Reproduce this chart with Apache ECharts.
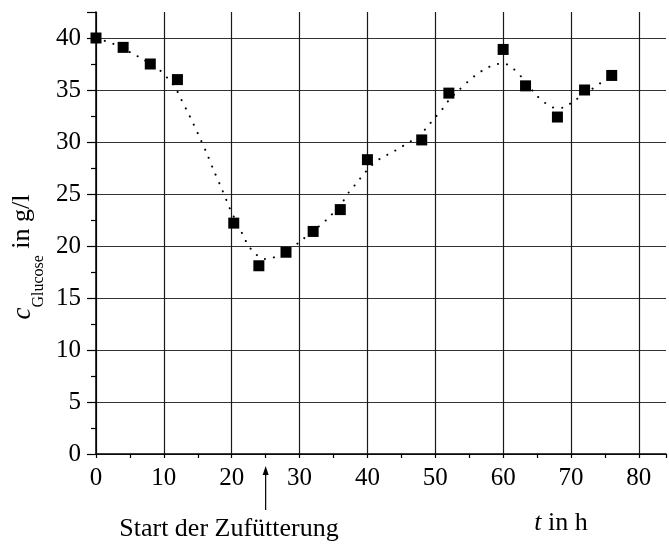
<!DOCTYPE html>
<html>
<head>
<meta charset="utf-8">
<script src="https://cdn.jsdelivr.net/npm/echarts@6/dist/echarts.min.js"></script>
<style>
  html, body { margin: 0; padding: 0; background: #fff; }
  #main { width: 669px; height: 545px; }
</style>
</head>
<body>
<div id="main"></div>
<script>
// Messpunkte
var timeH = [0, 4, 8, 12, 20.3, 24, 28, 32, 36, 40, 48, 52, 60, 63.3, 68, 72, 76];
var glucose = [40.0, 39.1, 37.5, 36.0, 22.2, 18.1, 19.4, 21.4, 23.5, 28.3, 30.2, 34.7, 38.9, 35.4, 32.4, 35.0, 36.4];

// gepunktete Ausgleichskurve
var fitT = [0, 1.4, 2.7, 5.4, 6.8, 9.4, 10.6, 11.7, 12.4, 13.8, 15.1, 16.3, 17.4, 18.6, 19.7, 20.4, 21.7, 22.4, 23.4, 24.8, 26.2, 28.9, 30.2, 34.1, 36.4, 37.3, 38.4, 39.5, 40.7, 42.1, 43.5, 44.8, 46.2, 47.6, 48.8, 49.9, 51.1, 52.1, 53.5, 54.8, 56.1, 57.4, 58.8, 60.1, 61.4, 62.7, 64.9, 66.2, 67.5, 68.9, 70.2, 73.1, 74.3, 76];
var fitC = [40, 39.7, 39.4, 38.5, 38.0, 36.9, 36.1, 35.2, 34.3, 32.5, 30.7, 28.95, 27.2, 25.4, 23.65, 22.7, 21.0, 20.1, 19.3, 18.75, 18.9, 19.85, 20.5, 22.6, 24.3, 25.2, 26.05, 26.95, 27.8, 28.5, 28.95, 29.45, 30.0, 30.55, 31.45, 32.3, 33.2, 34.1, 35.0, 35.8, 36.5, 37.05, 37.45, 37.55, 37.1, 36.25, 34.5, 33.75, 33.3, 33.3, 33.85, 35.1, 35.65, 36.4];

var feedStart = 25; // Start der Zufütterung
var font = 'Liberation Serif';

var points = timeH.map(function (t, i) { return [t, glucose[i]]; });
var fit = fitT.map(function (t, i) { return [t, fitC[i]]; });

var chart = echarts.init(document.getElementById('main'));

var option = {
    animation: false,
    grid: { left: 96, top: 12, width: 575, height: 442 },
    xAxis: {
        type: 'value',
        min: 0,
        max: 84,
        interval: 10,
        axisLine: { show: true, onZero: false, lineStyle: { color: '#000', width: 1.5 } },
        axisTick: { show: true, length: 4, lineStyle: { color: '#000', width: 1.2 } },
        minorTick: { show: true, splitNumber: 2, length: 4, lineStyle: { color: '#000', width: 1.2 } },
        splitLine: { show: true, showMaxLine: false, lineStyle: { color: '#1a1a1a', width: 1.2 } },
        axisLabel: {
            color: '#000', fontFamily: font, fontSize: 25, margin: 12,
            formatter: function (v) { return v % 10 === 0 ? String(v) : ''; }
        }
    },
    yAxis: {
        type: 'value',
        min: 0,
        max: 42.5,
        interval: 5,
        axisLine: { show: true, onZero: false, lineStyle: { color: '#000', width: 1.5 } },
        axisTick: { show: true, length: 9, lineStyle: { color: '#000', width: 1.2 } },
        minorTick: { show: true, splitNumber: 2, length: 5, lineStyle: { color: '#000', width: 1.2 } },
        splitLine: { show: true, showMaxLine: false, lineStyle: { color: '#333', width: 1.2 } },
        axisLabel: {
            color: '#000', fontFamily: font, fontSize: 25, margin: 15,
            formatter: function (v) { return v % 5 === 0 ? String(v) : ''; }
        }
    },
    series: [
        {
            name: 'fit',
            type: 'line',
            data: fit,
            smooth: 0.3,
            symbol: 'none',
            clip: false,
            lineStyle: { color: '#000', width: 2, type: [0.1, 9], cap: 'round' },
            z: 2
        },
        {
            name: 'Glucose',
            type: 'scatter',
            data: points,
            symbol: 'rect',
            symbolSize: 11,
            clip: false,
            itemStyle: { color: '#000', opacity: 1 },
            z: 3
        }
    ]
};
chart.setOption(option);

// Beschriftungen und Pfeil
var arrowX = chart.convertToPixel({ xAxisIndex: 0 }, feedStart);
chart.setOption({
    graphic: [
        {
            type: 'text',
            x: 39,
            y: 257,
            rotation: Math.PI / 2,
            style: {
                text: '{c|c}{s|Glucose}{n| in g/l}',
                align: 'center',
                verticalAlign: 'middle',
                fill: '#000',
                rich: {
                    c: { fontFamily: font, fontSize: 27, fontStyle: 'italic', lineHeight: 30, verticalAlign: 'top' },
                    s: { fontFamily: font, fontSize: 16, lineHeight: 60 },
                    n: { fontFamily: font, fontSize: 26, lineHeight: 30, verticalAlign: 'top' }
                }
            }
        },
        {
            type: 'text',
            x: 229,
            y: 529,
            style: {
                text: 'Start der Zufütterung',
                fontFamily: font, fontSize: 26, fill: '#000',
                align: 'center', verticalAlign: 'middle'
            }
        },
        {
            type: 'text',
            x: 561,
            y: 523,
            style: {
                text: '{i|t} in h',
                fontFamily: font, fontSize: 26, fill: '#000',
                align: 'center', verticalAlign: 'middle',
                rich: { i: { fontFamily: font, fontSize: 26, fontStyle: 'italic' } }
            }
        },
        {
            type: 'line',
            shape: { x1: arrowX, y1: 470, x2: arrowX, y2: 510 },
            style: { stroke: '#000', lineWidth: 1.2 }
        },
        {
            type: 'polygon',
            shape: { points: [[arrowX, 466], [arrowX - 3, 475], [arrowX + 3, 475]] },
            style: { fill: '#000' }
        }
    ]
});
</script>
</body>
</html>
